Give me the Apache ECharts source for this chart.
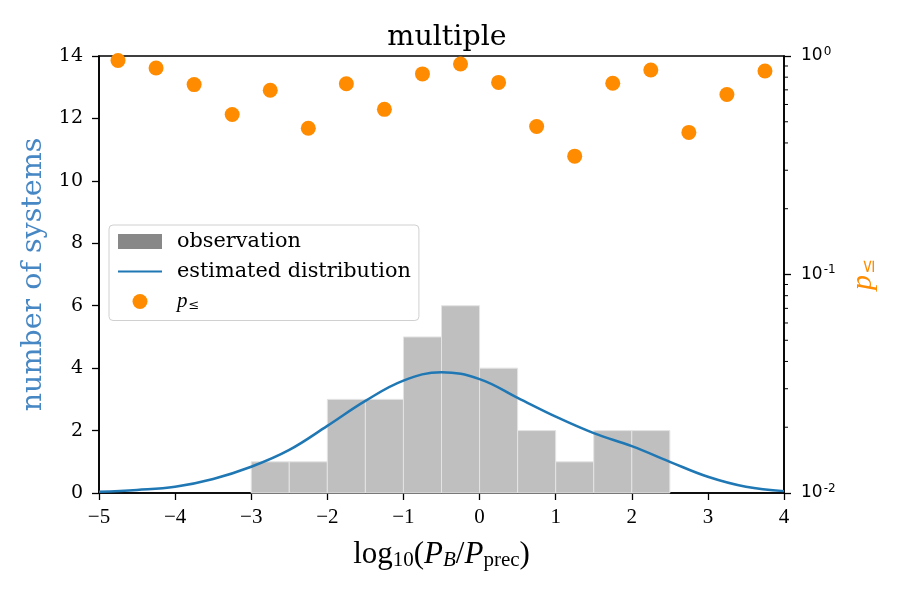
<!DOCTYPE html>
<html>
<head>
<meta charset="utf-8">
<script src="https://cdn.jsdelivr.net/npm/echarts@6.0.0/dist/echarts.min.js"></script>
<style>
  html, body { margin: 0; padding: 0; background: #fff; }
  #chart { width: 900px; height: 600px; }
</style>
</head>
<body>
<div id="chart"></div>
<script>
// histogram (observation)
const binEdges = [-3, -2.5, -2, -1.5, -1, -0.5, 0, 0.5, 1, 1.5, 2, 2.5]
const binCounts = [1, 1, 3, 3, 5, 6, 4, 2, 1, 2, 2]

// estimated distribution
const curveX = [-5, -4.5, -4, -3.5, -3, -2.5, -2, -1.5, -1, -0.5, 0, 0.5, 1, 1.5, 2, 2.5, 3, 3.5, 4]
const curveY = [0.04, 0.1, 0.2, 0.45, 0.84, 1.38, 2.15, 2.95, 3.6, 3.87, 3.65, 3.05, 2.45, 1.92, 1.5, 1.0, 0.52, 0.2, 0.06]

// p<= per bin centre (right, log axis)
const pX = [-4.75, -4.25, -3.75, -3.25, -2.75, -2.25, -1.75, -1.25, -0.75, -0.25, 0.25, 0.75, 1.25, 1.75, 2.25, 2.75, 3.25, 3.75]
const pVal = [0.953, 0.881, 0.74, 0.54, 0.697, 0.467, 0.747, 0.57, 0.828, 0.919, 0.757, 0.476, 0.348, 0.75, 0.863, 0.447, 0.666, 0.854]

const serif = 'DejaVu Serif'
const cmSerif = 'Liberation Serif'
const sans = 'DejaVu Sans'
const blue = '#1f77b4'
const orange = '#ff8c00'

const chart = echarts.init(document.getElementById('chart'), null, { renderer: 'canvas' })

const histData = binCounts.map((c, i) => [binEdges[i], binEdges[i + 1], c])
const curveData = curveX.map((x, i) => [x, curveY[i]])
const pData = pX.map((x, i) => [x, pVal[i]])

const option = {
  animation: false,
  backgroundColor: '#fff',
  title: {
    text: 'multiple',
    left: 442,
    top: 18,
    textAlign: 'center',
    textStyle: { fontFamily: serif, fontSize: 28.5, fontWeight: 'normal', color: '#000' }
  },
  legend: {
    orient: 'vertical',
    left: 109,
    top: 225,
    padding: [6, 8, 8, 8],
    itemWidth: 44,
    itemHeight: 15,
    itemGap: 9,
    borderColor: '#d0d0d0',
    borderWidth: 1,
    borderRadius: 4,
    backgroundColor: '#fff',
    textStyle: {
      fontFamily: serif,
      fontSize: 20.8,
      color: '#000',
      padding: [0, 0, 0, 10],
      rich: {
        it: { fontFamily: cmSerif, fontStyle: 'italic', fontSize: 21, color: '#000' },
        sub: { fontFamily: serif, fontSize: 13, color: '#000', verticalAlign: 'bottom', padding: [9, 0, 0, 1] }
      }
    },
    formatter: function (name) {
      if (name === 'p') return '{it|p}{sub|≤}'
      return name
    },
    data: [
      { name: 'observation', icon: 'rect', itemStyle: { color: '#888888' } },
      { name: 'estimated distribution', itemStyle: { opacity: 0 } },
      { name: 'p', icon: 'circle' }
    ]
  },
  grid: {
    left: 99,
    right: 116,
    top: 56,
    bottom: 107,
    show: true,
    borderColor: '#000',
    borderWidth: 1.6,
    containLabel: false
  },
  xAxis: {
    type: 'value',
    min: -5,
    max: 4,
    interval: 1,
    name: '{t|log}{s|10}{t|(}{i|P}{si|B}{t|/}{i|P}{s|prec}{t|)}',
    nameLocation: 'middle',
    nameGap: 45,
    nameTextStyle: {
      rich: {
        t: { fontFamily: cmSerif, fontSize: 31, color: '#000' },
        i: { fontFamily: cmSerif, fontStyle: 'italic', fontSize: 31, color: '#000' },
        s: { fontFamily: cmSerif, fontSize: 21, color: '#000', verticalAlign: 'bottom', padding: [12, 0, 0, 0] },
        si: { fontFamily: cmSerif, fontStyle: 'italic', fontSize: 21, color: '#000', verticalAlign: 'bottom', padding: [12, 0, 0, 0] }
      }
    },
    axisLine: { onZero: false, lineStyle: { color: '#000', width: 1.6 } },
    axisTick: { inside: false, length: 7, lineStyle: { color: '#000', width: 1.3 } },
    axisLabel: {
      margin: 14,
      fontFamily: cmSerif,
      fontSize: 21,
      color: '#000',
      formatter: v => (v < 0 ? '\u2212' + Math.abs(v) : String(v))
    },
    splitLine: { show: false }
  },
  yAxis: [
    {
      type: 'value',
      min: 0,
      max: 14,
      interval: 2,
      position: 'left',
      name: 'number of systems',
      nameLocation: 'middle',
      nameGap: 50,
      nameRotate: 90,
      nameTextStyle: { fontFamily: serif, fontSize: 28.5, color: '#4787c4' },
      axisLine: { show: true, onZero: false, lineStyle: { color: '#000', width: 1.6 } },
      axisTick: { show: true, inside: false, length: 7, lineStyle: { color: '#000', width: 1.3 } },
      axisLabel: { margin: 16, fontFamily: serif, fontSize: 19, color: '#000' },
      splitLine: { show: false }
    },
    {
      type: 'log',
      logBase: 10,
      min: 0.01,
      max: 1,
      position: 'right',
      name: '{it|p}{sub|≤}',
      nameLocation: 'middle',
      nameGap: 64,
      nameRotate: 90,
      nameTextStyle: {
        rich: {
          it: { fontFamily: cmSerif, fontStyle: 'italic', fontSize: 30, color: orange },
          sub: { fontFamily: serif, fontSize: 18, color: orange, verticalAlign: 'bottom', padding: [12, 0, 0, 1] }
        }
      },
      axisLine: { show: true, onZero: false, lineStyle: { color: '#000', width: 1.6 } },
      axisTick: { show: true, inside: false, length: 7, lineStyle: { color: '#000', width: 1.3 } },
      axisLabel: {
        margin: 17,
        formatter: function (v) {
          const e = Math.round(Math.log10(v))
          return '{b|10}{e|' + (e < 0 ? '-' + Math.abs(e) : e) + '}'
        },
        rich: {
          b: { fontFamily: sans, fontSize: 17, color: '#000' },
          e: { fontFamily: sans, fontSize: 12, color: '#000', verticalAlign: 'top', padding: [0, 0, 9, 1] }
        }
      },
      splitLine: { show: false }
    }
  ],
  series: [
    {
      name: 'observation',
      type: 'custom',
      xAxisIndex: 0,
      yAxisIndex: 0,
      itemStyle: { color: '#888888' },
      encode: { x: [0, 1], y: 2 },
      data: histData,
      z: 1,
      renderItem: function (params, api) {
        const top = api.coord([api.value(0), api.value(2)])
        const bot = api.coord([api.value(1), 0])
        return {
          type: 'rect',
          shape: { x: top[0], y: top[1], width: bot[0] - top[0], height: bot[1] - top[1] },
          style: { fill: '#bfbfbf', stroke: '#e4e4e4', lineWidth: 1 }
        }
      }
    },
    {
      name: 'estimated distribution',
      type: 'line',
      xAxisIndex: 0,
      yAxisIndex: 0,
      data: curveData,
      smooth: 0.4,
      symbol: 'none',
      lineStyle: { color: blue, width: 2.5 },
      itemStyle: { color: blue },
      z: 3
    },
    {
      name: 'p',
      type: 'scatter',
      xAxisIndex: 0,
      yAxisIndex: 1,
      data: pData,
      symbol: 'circle',
      symbolSize: 15,
      itemStyle: { color: orange, opacity: 1 },
      z: 4
    }
  ]
}

chart.setOption(option)

// minor ticks of the log axis (2..9 x decade)
const minorVals = []
for (const d of [0.01, 0.1]) {
  for (let k = 2; k <= 9; k++) minorVals.push(d * k)
}
const rightX = chart.convertToPixel({ xAxisIndex: 0 }, 4)
chart.setOption({
  graphic: minorVals.map(v => {
    const y = chart.convertToPixel({ yAxisIndex: 1 }, v)
    return {
      type: 'line',
      silent: true,
      shape: { x1: rightX, y1: y, x2: rightX + 4, y2: y },
      style: { stroke: '#000', lineWidth: 1 },
      z: 10
    }
  })
})
</script>
</body>
</html>
